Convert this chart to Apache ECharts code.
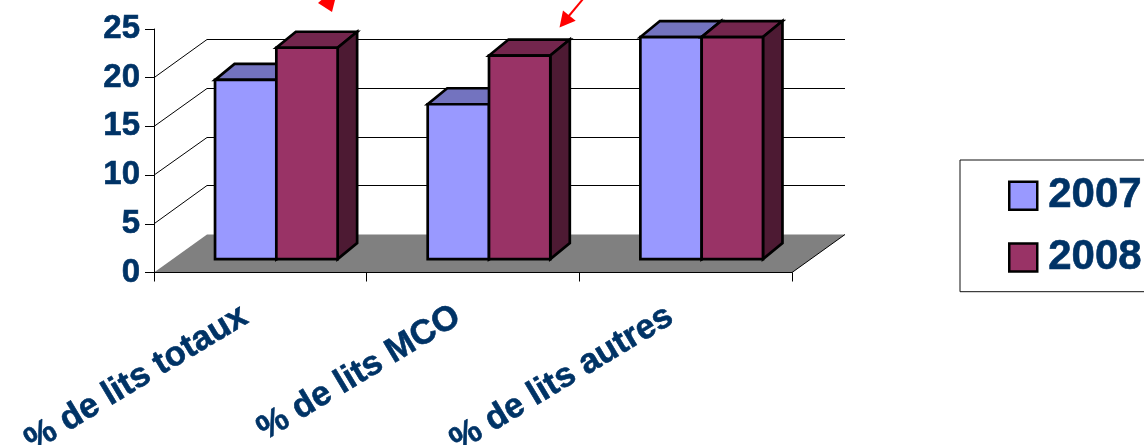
<!DOCTYPE html>
<html><head><meta charset="utf-8">
<style>html,body{margin:0;padding:0;background:#fff;overflow:hidden}#c{width:1144px;height:445px}</style>
<script src="https://cdn.jsdelivr.net/npm/echarts@6/dist/echarts.min.js"></script>
</head><body><div id="c"></div>
<script>
const categories = ['% de lits totaux', '% de lits MCO', '% de lits autres'];
const values2007 = [18.4, 15.9, 22.8];
const values2008 = [21.7, 20.9, 22.8];
const wallTicks = [5, 10, 15, 20];

const TEXT = '#003366', FONT = '"Liberation Sans", Arial, sans-serif';
const WALL = {dx: 53, dy: -38.5, floorDy: -38};
const BAR = {width: 61.3, cx: 16, baseY: -13.4, dx: 19.5, dy: -16};

function poly(points, fill, stroke, lw) {
  return {type: 'polygon', shape: {points},
    style: {fill, stroke: stroke || null, lineWidth: lw || 0, lineJoin: 'miter'}};
}
function floorItem(params, api) {
  const c = params.coordSys, y0 = c.y + c.height, x0 = c.x, x1 = c.x + c.width;
  return {type: 'group', children: [
    poly([[x0, y0], [x1, y0], [x1 + WALL.dx, y0 + WALL.floorDy], [x0 + WALL.dx, y0 + WALL.floorDy]], '#808080'),
    {type: 'line', shape: {x1: x1, y1: y0, x2: x1 + WALL.dx, y2: y0 + WALL.floorDy},
     style: {stroke: '#000', lineWidth: 1}}
  ]};
}
function wallItem(params, api) {
  const c = params.coordSys, y = api.coord([0, api.value(0)])[1];
  const x0 = c.x, x1 = c.x + c.width;
  const by = Math.round(y + WALL.dy) + 0.5;
  return {type: 'polyline', shape: {points: [[x0, y], [x0 + WALL.dx, by], [x1 + WALL.dx, by]]},
    style: {stroke: '#000', lineWidth: 1, fill: null}};
}
function barRenderer(slot, front, top, side) {
  return function (params, api) {
    const p = api.coord([api.value(0), api.value(1)]);
    const b = api.coord([api.value(0), 0]);
    const xl = p[0] + BAR.cx + slot * BAR.width, xr = xl + BAR.width;
    const yt = p[1] + BAR.baseY, yb = b[1] + BAR.baseY;
    const lw = 2.7, k = '#000';
    return {type: 'group', children: [
      poly([[xl, yt], [xr, yt], [xr + BAR.dx, yt + BAR.dy], [xl + BAR.dx, yt + BAR.dy]], top, k, lw),
      poly([[xr, yt], [xr + BAR.dx, yt + BAR.dy], [xr + BAR.dx, yb + BAR.dy], [xr, yb]], side, k, lw),
      poly([[xl, yt], [xr, yt], [xr, yb], [xl, yb]], front, k, lw)
    ]};
  };
}
const bold = {color: TEXT, fontFamily: FONT, fontWeight: 'bold', textBorderColor: TEXT, textBorderWidth: 0.6};
const chart = echarts.init(document.getElementById('c'), null, {renderer: 'canvas'});
chart.setOption({
  animation: false,
  backgroundColor: '#fff',
  grid: {left: 154, top: 29, width: 638, height: 243.5, containLabel: false, outerBoundsMode: 'none'},
  xAxis: {type: 'category', data: categories, z: 10,
    axisLine: {lineStyle: {color: '#000', width: 1}},
    axisTick: {show: true, alignWithLabel: false, length: 9, lineStyle: {color: '#000', width: 1}},
    axisLabel: Object.assign({interval: 0, rotate: 31, margin: 32, fontSize: 34.5, padding: [0, 18, 0, 0]}, bold),
    splitLine: {show: false}},
  yAxis: {type: 'value', min: 0, max: 25, interval: 5, z: 10,
    axisLine: {show: true, lineStyle: {color: '#000', width: 1}},
    axisTick: {show: true, length: 9, lineStyle: {color: '#000', width: 1}},
    axisLabel: Object.assign({margin: 14, fontSize: 33, padding: [4, 0, 0, 0]}, bold),
    splitLine: {show: false}},
  legend: {orient: 'vertical', left: 960, top: 160, data: [
      {name: '2007', icon: 'rect', itemStyle: {color: '#9999FF', borderColor: '#000', borderWidth: 2.5}},
      {name: '2008', icon: 'rect', itemStyle: {color: '#993366', borderColor: '#000', borderWidth: 2.5}}],
    itemWidth: 28, itemHeight: 28, itemGap: 19, padding: [14.5, 30, 13, 48],
    borderColor: '#111', borderWidth: 1, backgroundColor: '#fff',
    textStyle: Object.assign({fontSize: 42, padding: [-4, 0, 0, 6]}, bold)},
  series: [
    {type: 'custom', name: 'floor', silent: true, clip: false, z: 1, data: [[0]], renderItem: floorItem},
    {type: 'custom', name: 'walls', silent: true, clip: false, z: 1,
      data: wallTicks.map(v => [v]), encode: {y: 0}, renderItem: wallItem},
    {type: 'custom', name: '2007', clip: false, z: 3, itemStyle: {color: '#9999FF'},
      data: values2007.map((v, i) => [i, v]), encode: {x: 0, y: 1},
      renderItem: barRenderer(-1, '#9999FF', '#7373BF', '#4D4D80')},
    {type: 'custom', name: '2008', clip: false, z: 4, itemStyle: {color: '#993366'},
      data: values2008.map((v, i) => [i, v]), encode: {x: 0, y: 1},
      renderItem: barRenderer(0, '#993366', '#73264D', '#4D1A33')}
  ],
  graphic: [
    {type: 'polygon', z: 20, shape: {points: [[318, 3], [326, -4], [336, -4], [332, 12]]}, style: {fill: '#FF0000'}},
    {type: 'line', z: 20, shape: {x1: 583, y1: -1, x2: 568, y2: 17}, style: {stroke: '#FF0000', lineWidth: 2}},
    {type: 'polygon', z: 20, shape: {points: [[559.5, 27.5], [563, 10.5], [575.7, 20.7]]}, style: {fill: '#FF0000'}}
  ]
});
</script></body></html>
